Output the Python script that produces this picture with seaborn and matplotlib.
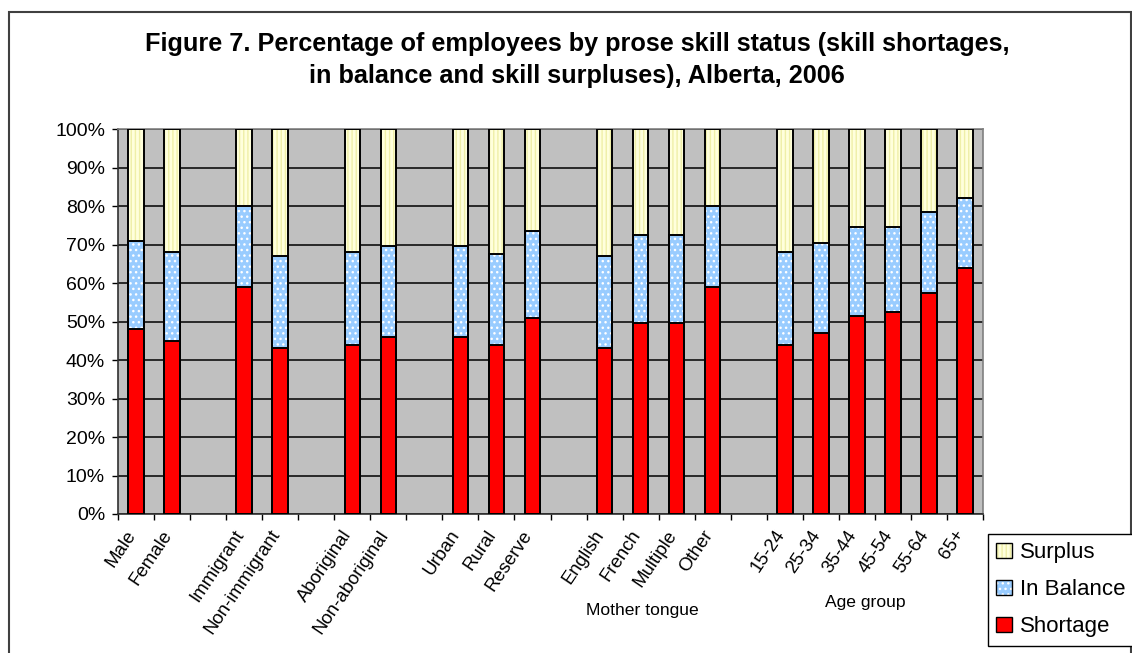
import matplotlib
matplotlib.use("Agg")
import matplotlib.pyplot as plt
import matplotlib.transforms as mtransforms
import numpy as np
import pandas as pd
import seaborn as sns
from matplotlib.patches import Patch, Rectangle
from matplotlib.ticker import PercentFormatter

# ---- data -------------------------------------------------------------
categories = ["Male", "Female",
              "Immigrant", "Non-immigrant",
              "Aboriginal", "Non-aboriginal",
              "Urban", "Rural", "Reserve",
              "English", "French", "Multiple", "Other",
              "15-24", "25-34", "35-44", "45-54", "55-64", "65+"]
shortage = [48, 45, 59, 43, 44, 46, 46, 44, 51,
            43, 49.5, 49.5, 59, 44, 47, 51.5, 52.5, 57.5, 64]
in_balance = [23, 23, 21, 24, 24, 23.5, 23.5, 23.5, 22.5,
              24, 23, 23, 21, 24, 23.5, 23, 22, 21, 18]
group_sizes = [2, 2, 2, 3, 4, 6]
group_titles = ["", "", "", "", "Mother tongue", "Age group"]
series_names = ["Surplus", "In Balance", "Shortage"]

# ---- styling ----------------------------------------------------------
SURPLUS_FACE, SURPLUS_HATCH = "#FFFFDC", "#EFEFA8"
BALANCE_FACE, BALANCE_HATCH = "#99CCFF", "#FFFFFF"
SHORTAGE_FACE = "#FF0000"
PLOT_BG = "#C0C0C0"
BAR_W = 0.43
W, H = 1132, 653

sns.set_theme(style="white")
plt.rcParams["font.family"] = ["Liberation Sans", "DejaVu Sans"]
plt.rcParams["hatch.linewidth"] = 1.0
for key in ("text.color", "axes.labelcolor", "xtick.color", "ytick.color"):
    plt.rcParams[key] = "black"

df = pd.DataFrame({"category": categories,
                   "shortage": shortage,
                   "in_balance": in_balance})
df["surplus"] = 100 - df["shortage"] - df["in_balance"]
df["top_balance"] = df["shortage"] + df["in_balance"]
df["top_surplus"] = df["top_balance"] + df["surplus"]

# category slots with an empty slot between groups
order, start = [], 0
for gi, size in enumerate(group_sizes):
    order += categories[start:start + size]
    start += size
    if gi < len(group_sizes) - 1:
        order.append(f"_gap{gi}")
tick_text = ["" if c.startswith("_gap") else c for c in order]

fig = plt.figure(figsize=(W / 100, H / 100), dpi=100)
ax = fig.add_axes([118 / W, 1 - 514 / H, 865 / W, 385 / H])
ax.set_facecolor(PLOT_BG)

# stacked bars drawn as cumulative layers, tallest first
layers = [("top_surplus", SURPLUS_FACE, SURPLUS_HATCH, "||||"),
          ("top_balance", BALANCE_FACE, BALANCE_HATCH, "..."),
          ("shortage", SHORTAGE_FACE, SHORTAGE_FACE, None)]
for col, face, hcol, hatch in layers:
    sns.barplot(data=df, x="category", y=col, order=order, color=face,
                saturation=1, width=BAR_W, errorbar=None, ax=ax, zorder=3)
    for p in ax.containers[-1]:
        p.set_facecolor(face)
        p.set_edgecolor(hcol)
        p.set_linewidth(0)
        if hatch:
            p.set_hatch(hatch)

# black outlines of every segment
for col, _, _, _ in layers:
    sns.barplot(data=df, x="category", y=col, order=order, color="black",
                saturation=1, width=BAR_W, errorbar=None, ax=ax, zorder=4)
    for p in ax.containers[-1]:
        p.set_facecolor("none")
        p.set_edgecolor("black")
        p.set_linewidth(1.4)

ax.set_xlim(-0.5, len(order) - 0.5)
ax.set_ylim(0, 100)
ax.set_yticks(np.arange(0, 101, 10))
ax.yaxis.set_major_formatter(PercentFormatter(decimals=0))
ax.set_axisbelow(True)
ax.yaxis.grid(True, color="black", linewidth=1.1, zorder=0)
ax.xaxis.grid(False)
ax.set_xlabel("")
ax.set_ylabel("")

ax.set_xticks(range(len(order)))
ax.set_xticklabels(tick_text, rotation=56, ha="right", va="baseline",
                   rotation_mode="anchor", fontsize=13.4)
ax.set_xticks(np.arange(-0.5, len(order)), minor=True)
ax.tick_params(axis="x", which="major", bottom=True, length=0, pad=14.5)
ax.tick_params(axis="x", which="minor", bottom=True, length=4.3,
               width=1, color="black", direction="out")
ax.tick_params(axis="y", left=True, length=4.3, width=1, color="black",
               direction="out", labelsize=14, pad=5)

for side in ("top", "right"):
    ax.spines[side].set_color("#808080")
    ax.spines[side].set_linewidth(1.2)
for side in ("left", "bottom"):
    ax.spines[side].set_color("#303030")
    ax.spines[side].set_linewidth(1.2)
    ax.spines[side].set_visible(True)

# group captions under the tick labels
blend = mtransforms.blended_transform_factory(ax.transData, fig.transFigure)
caption_pos = {"Mother tongue": (14.04, 1 - 610 / H),
               "Age group": (20.23, 1 - 602 / H)}
for title in group_titles:
    if title:
        x, y = caption_pos[title]
        ax.text(x, y, title, transform=blend, ha="center", va="center",
                fontsize=12.6, color="black")

# title
fig.text(577 / W, 1 - 51 / H,
         "Figure 7. Percentage of employees by prose skill status (skill shortages,",
         ha="center", va="baseline", fontsize=18.2, fontweight="bold")
fig.text(577 / W, 1 - 83 / H,
         "in balance and skill surpluses), Alberta, 2006",
         ha="center", va="baseline", fontsize=18.2, fontweight="bold")

# legend
def legend_handle(face, hcol, hatch):
    return (Patch(facecolor=face, edgecolor=hcol, linewidth=0, hatch=hatch),
            Patch(facecolor="none", edgecolor="black", linewidth=1.0))

handles = [legend_handle(SURPLUS_FACE, SURPLUS_HATCH, "||||"),
           legend_handle(BALANCE_FACE, BALANCE_HATCH, "..."),
           legend_handle(SHORTAGE_FACE, SHORTAGE_FACE, None)]
leg = fig.legend(handles, series_names, loc="upper left",
                 bbox_to_anchor=(988 / W, 1 - 534 / H), fontsize=16,
                 frameon=True, fancybox=False, edgecolor="black",
                 framealpha=1, handlelength=0.68, handleheight=0.68,
                 handletextpad=0.4, borderpad=0.38, labelspacing=0.72,
                 borderaxespad=0)
leg.get_frame().set_linewidth(1.0)

# chart-area frame
fig.add_artist(Rectangle((9 / W, -0.05), (1131 - 9) / W, (H - 12) / H + 0.05,
                         transform=fig.transFigure, fill=False,
                         edgecolor="#404040", linewidth=1.5))

fig.savefig("out.png", dpi=100)
